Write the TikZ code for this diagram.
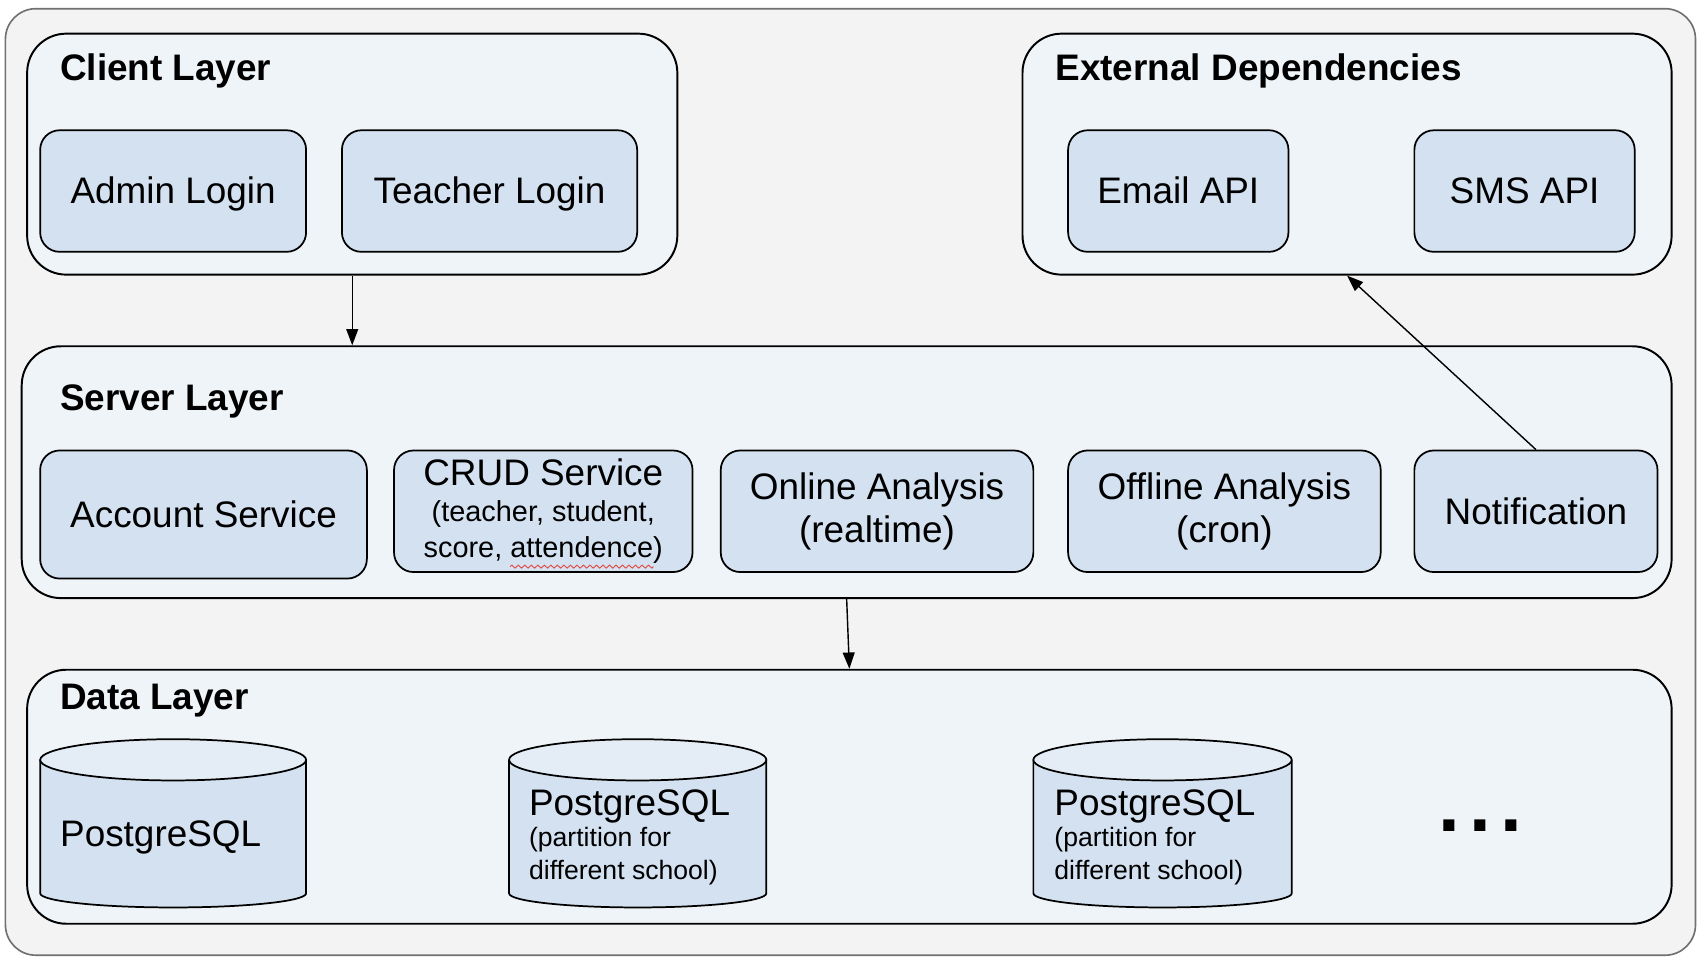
\documentclass[tikz,border=0pt]{standalone}
\usepackage{fontspec}
\setmainfont{Liberation Sans}
\usetikzlibrary{arrows.meta,decorations.pathmorphing}

\definecolor{bggray}{HTML}{F3F3F3}
\definecolor{edgegray}{HTML}{707070}
\definecolor{layerfill}{HTML}{EFF4F8}
\definecolor{boxfill}{HTML}{D4E1F0}
\definecolor{capfill}{HTML}{E4ECF5}
\definecolor{spellred}{HTML}{E0463C}

\newcommand{\notesize}{\fontsize{13.3}{16.5}\selectfont}

\tikzset{
  panel/.style={draw=edgegray, fill=bggray, line width=0.75pt, rounded corners=14pt},
  layer/.style={draw=black, fill=layerfill, line width=0.9pt, rounded corners=18pt, inner sep=0pt},
  svc/.style={draw=black, fill=boxfill, line width=0.8pt, rounded corners=9pt, inner sep=0pt,
              minimum height=56pt, align=center, font=\fontsize{17}{20}\selectfont},
  oneline/.style={text height=15.4pt, text depth=3.6pt},
  heading/.style={anchor=base west, inner sep=0pt, font=\fontsize{17}{20}\selectfont\bfseries},
  dbtxt/.style={anchor=base west, inner sep=0pt},
  flow/.style={-{Triangle[length=7.5pt,width=5.5pt]}, line width=0.65pt},
}

\begin{document}
\begin{tikzpicture}[x=0.5pt, y=-0.5pt]

  \useasboundingbox (0,0) rectangle (1568,884.4);

  %%-- BACKGROUND PANEL --%%
  \draw[panel] (5,8) rectangle (1562,880);

  %%-- CLIENT LAYER (x = 25 to 624, y = 31 to 253) --%%
  \node[layer, minimum width=299.5pt, minimum height=111pt] (client) at (324.5,142) {};
  \node[heading] (clienthead) at (55,74) {Client Layer};
  \node[svc, oneline, minimum width=122.5pt] (admin)   at (159.5,176) {Admin Login};
  \node[svc, oneline, minimum width=136pt]   (teacher) at (451,176)   {Teacher Login};

  %%-- EXTERNAL DEPENDENCIES (x = 942 to 1540) --%%
  \node[layer, minimum width=299pt, minimum height=111pt] (ext) at (1241,142) {};
  \node[heading] (exthead) at (972,74) {External Dependencies};
  \node[svc, oneline, minimum width=101.5pt] (email) at (1085.5,176) {Email API};
  \node[svc, oneline, minimum width=101.5pt] (sms)   at (1404.5,176) {SMS API};

  %%-- SERVER LAYER (y = 319 to 551) --%%
  \node[layer, minimum width=760pt, minimum height=116pt] (server) at (780,435) {};
  \node[heading] (serverhead) at (55,378) {Server Layer};
  \node[svc, oneline, minimum width=150.5pt, minimum height=59pt] (account) at (187.5,474) {Account Service};
  \node[svc, font=\fontsize{17}{16.5}\selectfont, minimum width=137.5pt] (crud) at (500.5,471)
    {CRUD Service\\\notesize(teacher, student,\\\notesize score, attendence)};
  \node[svc, minimum width=144pt] (online)  at (808,471)  {Online Analysis\\(realtime)};
  \node[svc, minimum width=144pt] (offline) at (1128,471) {Offline Analysis\\(cron)};
  \node[svc, oneline, minimum width=112pt] (notif) at (1415,471) {Notification};
  % spell check mark under "attendence"
  \draw[spellred, line width=0.4pt, decorate,
        decoration={zigzag, amplitude=0.7pt, segment length=3pt}] (470,522) -- (602,522);

  %%-- DATA LAYER (y = 617 to 851) --%%
  \node[layer, minimum width=757.5pt, minimum height=117pt] (data) at (782.5,734) {};
  \node[heading] (datahead) at (55,654) {Data Layer};

  %% Cylinders: sides from y = 700 to 823, top cap ry = 19, bottom ry = 13
  \foreach \xl/\xr in {37/282, 469/706, 952/1190} {
    \pgfmathsetmacro{\cx}{(\xl+\xr)/2}
    \pgfmathsetmacro{\rx}{(\xr-\xl)/2}
    \fill[boxfill] (\xl,700) -- (\xl,823)
      arc[start angle=180, end angle=0, x radius=\rx, y radius=13] -- (\xr,700) -- cycle;
    \draw[line width=0.8pt] (\xl,700) -- (\xl,823)
      arc[start angle=180, end angle=0, x radius=\rx, y radius=13] -- (\xr,700);
    \filldraw[fill=capfill, line width=0.8pt] (\cx,700) ellipse [x radius=\rx, y radius=19];
  }

  \node[dbtxt, font=\fontsize{17}{20}\selectfont] (dbA) at (55,780) {PostgreSQL};
  \foreach \n/\xl in {B/487, C/971} {
    \node[dbtxt, font=\fontsize{17}{20}\selectfont] (db\n) at (\xl,751) {PostgreSQL};
    \node[dbtxt, font=\fontsize{12.25}{15}\selectfont] (db\n part) at (\xl,780) {(partition for};
    \node[dbtxt, font=\fontsize{12.25}{15}\selectfont] (db\n school) at (\xl,810) {different school)};
  }

  \node[anchor=base, inner sep=0pt, font=\fontsize{36}{40}\selectfont\bfseries] (more)
    at (1363.5,766) {.\kern4.25pt.\kern4.25pt.};

  %%-- CONNECTORS --%%
  \draw[flow] (client.south) -- (client.south |- server.north);
  \draw[flow] (server.south) -- (data.north);
  \draw[flow] (notif.north) -- (ext.south);

\end{tikzpicture}
\end{document}
